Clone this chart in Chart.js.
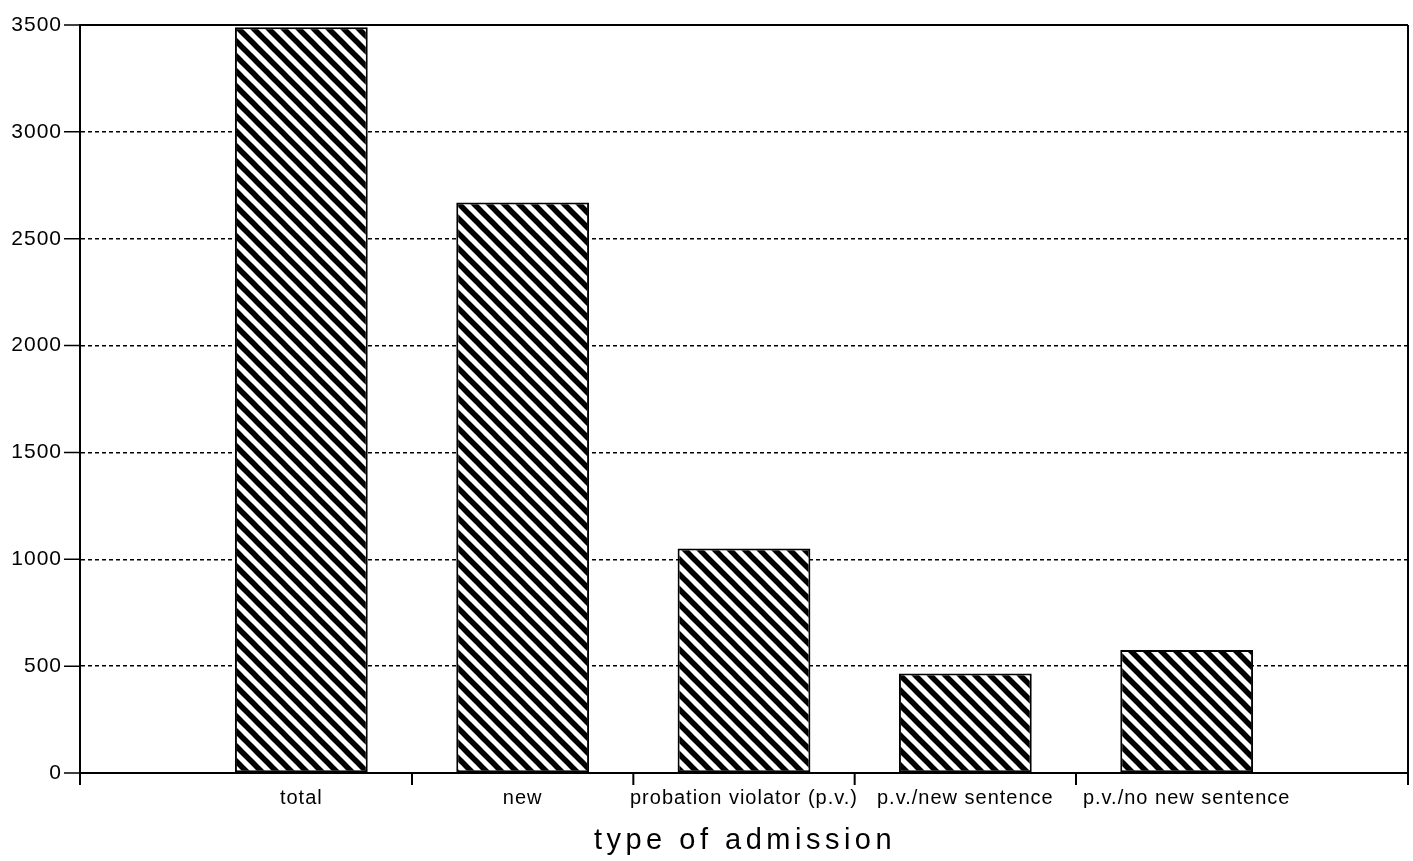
<!DOCTYPE html>
<html>
<head>
<meta charset="utf-8">
<script src="https://cdn.jsdelivr.net/npm/chart.js@4/dist/chart.umd.min.js"></script>
<style>
    html, body { margin: 0; padding: 0; background: #fff; }
    #wrap { width: 1413px; height: 861px; position: relative; }
</style>
</head>
<body>
<div id="wrap"><canvas id="admissionChart"></canvas></div>
<script>
const categories = ['total', 'new', 'probation violator (p.v.)', 'p.v./new sentence', 'p.v./no new sentence'];
const admissions = [3490, 2670, 1050, 465, 575];
const yTicks = [0, 500, 1000, 1500, 2000, 2500, 3000, 3500];
const xTitle = 'type of admission';

// empty slot on each side, the way the original axis runs past the outer bars
const labels = [''].concat(categories, ['']);
const values = [null].concat(admissions, [null]);

function hatchPattern() {
    const c = document.createElement('canvas');
    c.width = 15;
    c.height = 15;
    const g = c.getContext('2d');
    g.fillStyle = '#fff';
    g.fillRect(0, 0, 15, 15);
    g.strokeStyle = '#000';
    g.lineWidth = 5.5;
    g.lineCap = 'square';
    [-15, 0, 15].forEach(off => {
        g.beginPath();
        g.moveTo(off, 0);
        g.lineTo(off + 15, 15);
        g.stroke();
    });
    return g.createPattern(c, 'repeat');
}

const framePlugin = {
    id: 'frame',
    beforeDraw(chart) {
        chart.ctx.letterSpacing = '1px';
    },
    afterDraw(chart) {
        const ctx = chart.ctx;
        const area = chart.chartArea;
        const x = chart.scales.x;
        const y = chart.scales.y;
        ctx.save();
        ctx.strokeStyle = '#000';
        ctx.lineWidth = 2;
        ctx.setLineDash([]);

        // top and right edge, plus the end ticks
        ctx.beginPath();
        ctx.moveTo(area.left, area.top);
        ctx.lineTo(area.right, area.top);
        ctx.moveTo(area.right, area.top);
        ctx.lineTo(area.right, area.bottom + 12);
        ctx.moveTo(area.left, area.bottom);
        ctx.lineTo(area.left, area.bottom + 12);
        ctx.stroke();

        // x ticks between the bars
        ctx.beginPath();
        for (let i = 1; i < categories.length; i++) {
            const px = (x.getPixelForValue(i) + x.getPixelForValue(i + 1)) / 2;
            ctx.moveTo(px, area.bottom);
            ctx.lineTo(px, area.bottom + 12);
        }
        ctx.stroke();

        // y ticks to the left
        ctx.lineWidth = 1.5;
        ctx.beginPath();
        yTicks.forEach(v => {
            const py = y.getPixelForValue(v);
            ctx.moveTo(area.left - 16, py);
            ctx.lineTo(area.left, py);
        });
        ctx.stroke();

        // axis title
        ctx.letterSpacing = '4.5px';
        ctx.fillStyle = '#000';
        ctx.font = '29px "Liberation Sans", Arial, sans-serif';
        ctx.textAlign = 'center';
        ctx.textBaseline = 'alphabetic';
        ctx.fillText(xTitle, 745, 849);
        ctx.restore();
    }
};

const ctx = document.getElementById('admissionChart').getContext('2d');
new Chart(ctx, {
    type: 'bar',
    data: {
        labels: labels,
        datasets: [
            {
                label: 'admissions',
                data: values,
                backgroundColor: hatchPattern(),
                borderColor: '#000',
                borderWidth: 2,
                borderSkipped: false,
                barPercentage: 0.6,
                categoryPercentage: 1
            }
        ]
    },
    options: {
        responsive: true,
        maintainAspectRatio: false,
        animation: false,
        layout: {
            padding: { top: 25, right: 5, left: 0, bottom: 0 }
        },
        scales: {
            x: {
                offset: false,
                grid: { display: false, drawTicks: false },
                border: { display: true, color: '#000', width: 2 },
                ticks: {
                    color: '#000',
                    padding: 13,
                    maxRotation: 0,
                    minRotation: 0,
                    autoSkip: false,
                    font: { family: '"Liberation Sans", Arial, sans-serif', size: 20 }
                },
                afterFit: scale => {
                    scale.height = 88;
                    scale.paddingLeft = 0;
                    scale.paddingRight = 0;
                }
            },
            y: {
                min: 0,
                max: 3500,
                afterBuildTicks: scale => {
                    scale.ticks = yTicks.map(v => ({ value: v }));
                },
                grid: {
                    color: '#000',
                    lineWidth: 1.5,
                    drawTicks: false
                },
                border: { display: true, color: '#000', width: 2, dash: [4, 3] },
                ticks: {
                    color: '#000',
                    padding: 18,
                    font: { family: '"Liberation Sans", Arial, sans-serif', size: 21 },
                    callback: value => String(value)
                },
                afterFit: scale => {
                    scale.width = 80;
                    scale.paddingTop = 0;
                    scale.paddingBottom = 0;
                }
            }
        },
        plugins: {
            legend: { display: false },
            tooltip: { enabled: false }
        }
    },
    plugins: [framePlugin]
});
</script>
</body>
</html>
